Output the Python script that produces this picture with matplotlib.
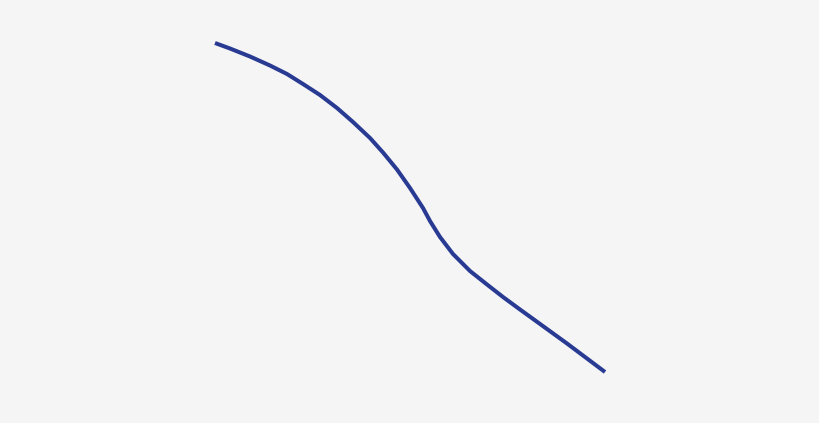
import matplotlib
matplotlib.use("Agg")
import matplotlib.pyplot as plt

# curve (x to the right, y downward)
curve_x = [215, 230, 250, 270, 287, 303, 320, 337, 353, 370, 383, 397,
           410, 423, 430, 440, 453, 470, 487, 503, 520, 538, 567, 605]
curve_y = [43, 48.5, 56.5, 65.5, 74, 84, 95, 108, 122, 138, 152.5, 169.5,
           188, 208, 221, 237, 254, 271, 284.5, 297, 309.5, 322.5, 343.5, 372]

fig = plt.figure(figsize=(8.2, 4.23), dpi=100)
fig.patch.set_facecolor("#f5f5f6")
ax = fig.add_axes([0, 0, 1, 1])
ax.set_facecolor("#f5f5f6")

ax.plot(curve_x, curve_y, color="#283a92", linewidth=2.9,
        solid_capstyle="butt", solid_joinstyle="round")

ax.set_xlim(0, 820)
ax.set_ylim(423, 0)
ax.axis("off")

fig.savefig("out.png", dpi=100, facecolor=fig.get_facecolor())
plt.close(fig)
